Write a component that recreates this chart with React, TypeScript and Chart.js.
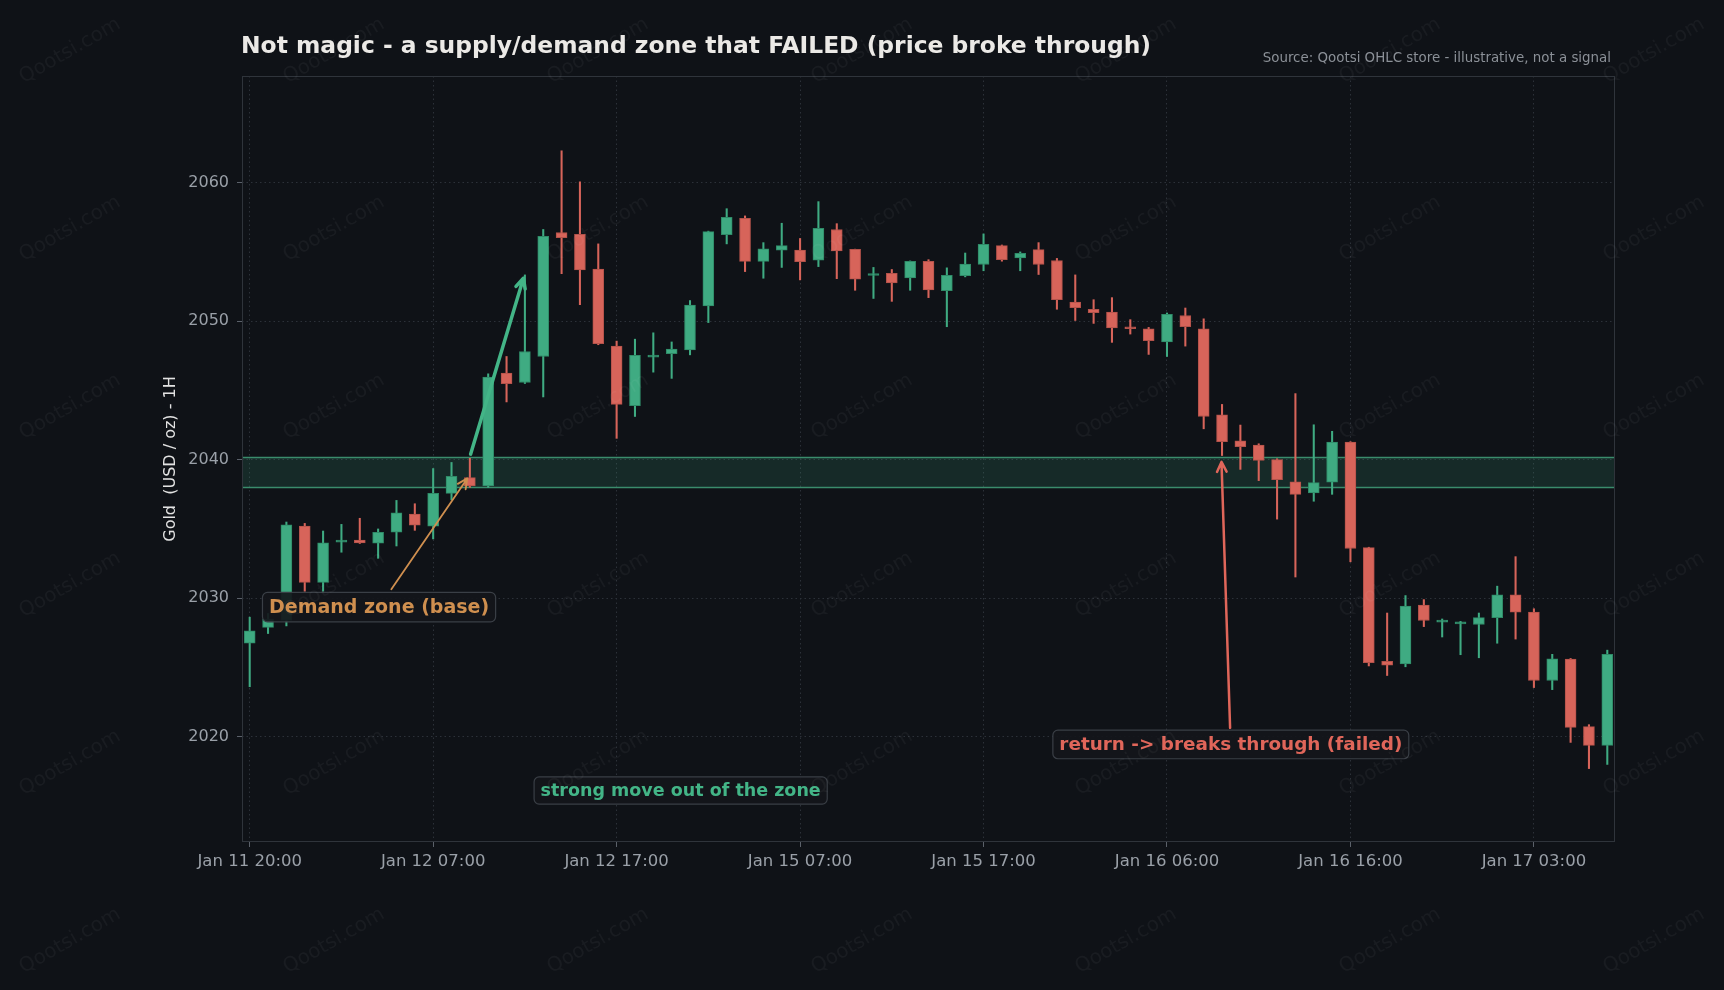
import React, { useEffect, useRef } from "react";
import { Chart, registerables } from "chart.js";
Chart.register(...registerables);

// ---- data (hourly OHLC, gold USD/oz) ----
const opens = [2026.75, 2027.9, 2028.4, 2035.2, 2031.14, 2034.05, 2034.2, 2033.98, 2034.76, 2036.07,
  2035.2, 2037.57, 2038.7, 2038.1, 2046.26, 2045.57, 2047.45, 2056.4, 2056.27, 2053.76,
  2048.2, 2043.9, 2047.4, 2047.66, 2047.93, 2051.1, 2056.24, 2057.43, 2054.32, 2055.13,
  2055.13, 2054.41, 2056.62, 2055.19, 2053.3, 2053.46, 2053.13, 2054.32, 2052.2, 2053.28,
  2054.09, 2055.46, 2054.56, 2055.16, 2054.38, 2051.37, 2050.86, 2050.65, 2049.6, 2049.45,
  2048.5, 2050.41, 2049.45, 2043.24, 2041.36, 2041.06, 2040.01, 2038.4, 2037.6, 2038.37,
  2041.27, 2033.65, 2025.45, 2025.26, 2029.5, 2028.27, 2028.15, 2028.1, 2028.6, 2030.25,
  2029.0, 2024.06, 2025.6, 2020.73, 2019.37];
const highs = [2028.63, 2028.9, 2035.5, 2035.4, 2034.85, 2035.33, 2035.77, 2035.0, 2037.06, 2036.82,
  2039.36, 2039.8, 2040.1, 2046.2, 2047.45, 2053.34, 2056.62, 2062.3, 2060.06, 2055.58,
  2048.56, 2048.7, 2049.16, 2048.5, 2051.49, 2056.5, 2058.12, 2057.6, 2055.67, 2057.07,
  2055.97, 2058.63, 2057.04, 2055.2, 2053.88, 2053.73, 2054.35, 2054.44, 2053.85, 2054.92,
  2056.3, 2055.5, 2055.0, 2055.67, 2054.53, 2053.34, 2051.55, 2051.7, 2050.11, 2049.55,
  2050.59, 2050.95, 2050.17, 2043.99, 2042.5, 2041.15, 2040.07, 2044.77, 2042.52, 2042.05,
  2041.3, 2033.68, 2028.93, 2030.19, 2029.9, 2028.5, 2028.33, 2028.93, 2030.87, 2033.0,
  2029.24, 2025.95, 2025.65, 2020.87, 2026.25];
const lows = [2023.61, 2027.45, 2028.0, 2030.5, 2030.5, 2033.32, 2033.95, 2032.88, 2033.77, 2034.9,
  2034.28, 2037.1, 2038.0, 2038.0, 2044.17, 2045.5, 2044.53, 2053.43, 2051.19, 2048.3,
  2041.54, 2043.12, 2046.32, 2045.87, 2047.57, 2049.9, 2055.58, 2053.58, 2053.1, 2053.88,
  2052.98, 2053.94, 2053.07, 2052.23, 2051.64, 2051.43, 2052.23, 2051.7, 2049.6, 2053.2,
  2053.64, 2054.33, 2053.64, 2053.37, 2050.86, 2050.05, 2049.84, 2048.47, 2049.07, 2047.6,
  2047.45, 2048.2, 2042.23, 2040.3, 2039.3, 2038.49, 2035.71, 2031.53, 2037.0, 2037.5,
  2032.63, 2025.11, 2024.42, 2025.05, 2027.95, 2027.2, 2025.92, 2025.7, 2026.75, 2027.05,
  2023.55, 2023.4, 2019.59, 2017.7, 2018.0];
const closes = [2027.65, 2028.5, 2035.3, 2031.14, 2034.0, 2034.12, 2034.0, 2034.76, 2036.16, 2035.27,
  2037.57, 2038.79, 2038.1, 2045.96, 2045.48, 2047.81, 2056.12, 2056.03, 2053.7, 2048.38,
  2043.99, 2047.54, 2047.45, 2047.99, 2051.16, 2056.47, 2057.49, 2054.32, 2055.22, 2055.46,
  2054.29, 2056.71, 2055.07, 2053.04, 2053.35, 2052.77, 2054.32, 2052.26, 2053.31, 2054.12,
  2055.55, 2054.44, 2054.9, 2054.09, 2051.55, 2050.98, 2050.62, 2049.51, 2049.45, 2048.59,
  2050.5, 2049.6, 2043.12, 2041.3, 2040.94, 2039.95, 2038.55, 2037.5, 2038.34, 2041.27,
  2033.59, 2025.35, 2025.17, 2029.44, 2028.39, 2028.33, 2028.2, 2028.6, 2030.25, 2028.99,
  2024.06, 2025.63, 2020.67, 2019.37, 2025.95];

const tickIndex = [0, 10, 20, 30, 40, 50, 60, 70];
const tickLabels = ["Jan 11 20:00", "Jan 12 07:00", "Jan 12 17:00", "Jan 15 07:00",
  "Jan 15 17:00", "Jan 16 06:00", "Jan 16 16:00", "Jan 17 03:00"];
const yTicks = [2020, 2030, 2040, 2050, 2060];

const zoneLow = 2038.0;
const zoneHigh = 2040.16;

const titleText = "Not magic - a supply/demand zone that FAILED (price broke through)";
const sourceText = "Source: Qootsi OHLC store - illustrative, not a signal";
const yTitle = "Gold  (USD / oz) - 1H";
const watermark = "Qootsi.com";

// ---- style ----
const BG = "#0f1217";
const UP = "#3fab82";
const UP_EDGE = "#2f8a67";
const DN = "#d7645a";
const DN_EDGE = "#b3524a";
const TAN = "#cf8f4f";
const GRID = "#2c3139";
const SPINE = "#2f343b";
const TICKTXT = "#9aa0a8";
const FONT = "'DejaVu Sans', sans-serif";

const notes = [
  { text: "Demand zone (base)", x: 7.05, y: 2029.36, color: TAN, size: 19 },
  { text: "strong move out of the zone", x: 23.49, y: 2016.12, color: "#43b587", size: 17.5 },
  { text: "return -> breaks through (failed)", x: 53.48, y: 2019.44, color: "#e0665a", size: 18.4 },
];
const arrows = [
  { x0: 7.72, y0: 2030.64, x1: 11.86, y1: 2038.65, color: TAN, width: 1.8 },
  { x0: 12.04, y0: 2040.4, x1: 14.92, y1: 2053.1, color: "#43b587", width: 3.5 },
  { x0: 53.44, y0: 2020.64, x1: 52.97, y1: 2039.84, color: "#e0665a", width: 2.5 },
];

export default function App() {
  const ref = useRef<HTMLCanvasElement>(null);
  useEffect(() => {
    document.body.style.margin = "0";
    document.body.style.background = BG;
    const canvas = ref.current!;
    const up = closes.map((c, i) => c >= opens[i]);
    const idx = closes.map((_, i) => i);

    const decor = {
      id: "decor",
      beforeDraw(chart: any) {
        const c = chart.ctx;
        c.save();
        c.fillStyle = BG;
        c.fillRect(0, 0, chart.width, chart.height);
        c.restore();
      },
      beforeDatasetsDraw(chart: any) {
        const c = chart.ctx;
        const a = chart.chartArea;
        const ys = chart.scales.y;
        const t = ys.getPixelForValue(zoneHigh);
        const b = ys.getPixelForValue(zoneLow);
        c.save();
        c.fillStyle = "rgba(60,170,128,0.16)";
        c.fillRect(a.left, t, a.right - a.left, b - t);
        c.strokeStyle = "#3a8c6c";
        c.lineWidth = 1.5;
        c.beginPath();
        c.moveTo(a.left, t); c.lineTo(a.right, t);
        c.moveTo(a.left, b); c.lineTo(a.right, b);
        c.stroke();
        c.restore();
      },
      afterDatasetsDraw(chart: any) {
        const c = chart.ctx;
        const xs = chart.scales.x, ys = chart.scales.y;
        c.save();
        for (const ar of arrows) {
          const px0 = xs.getPixelForValue(ar.x0), py0 = ys.getPixelForValue(ar.y0);
          const px1 = xs.getPixelForValue(ar.x1), py1 = ys.getPixelForValue(ar.y1);
          const ang = Math.atan2(py1 - py0, px1 - px0);
          const hl = 11, ha = 0.45;
          c.strokeStyle = ar.color;
          c.lineWidth = ar.width;
          c.lineCap = "round";
          c.lineJoin = "round";
          c.beginPath();
          c.moveTo(px0, py0); c.lineTo(px1, py1);
          c.moveTo(px1 - hl * Math.cos(ang - ha), py1 - hl * Math.sin(ang - ha));
          c.lineTo(px1, py1);
          c.lineTo(px1 - hl * Math.cos(ang + ha), py1 - hl * Math.sin(ang + ha));
          c.stroke();
        }
        c.textAlign = "center";
        c.textBaseline = "middle";
        for (const n of notes) {
          c.font = `bold ${n.size}px ${FONT}`;
          const px = xs.getPixelForValue(n.x), py = ys.getPixelForValue(n.y);
          const w = c.measureText(n.text).width + 13;
          const h = n.size * 1.55;
          c.beginPath();
          (c as any).roundRect(px - w / 2, py - h / 2, w, h, 5);
          c.fillStyle = "rgba(19,22,27,0.92)";
          c.fill();
          c.strokeStyle = "#3a3f46";
          c.lineWidth = 1.2;
          c.stroke();
          c.fillStyle = n.color;
          c.fillText(n.text, px, py + 1);
        }
        c.restore();
      },
      afterDraw(chart: any) {
        const c = chart.ctx;
        const a = chart.chartArea;
        c.save();
        c.strokeStyle = SPINE;
        c.lineWidth = 1;
        c.strokeRect(a.left + 0.5, a.top + 0.5, a.right - a.left - 1, a.bottom - a.top - 1);
        c.fillStyle = "#ebe9e6";
        c.font = `bold 23.4px ${FONT}`;
        c.textAlign = "left";
        c.textBaseline = "middle";
        c.fillText(titleText, a.left - 1, 47);
        c.fillStyle = "#8b9097";
        c.font = `13.4px ${FONT}`;
        c.textAlign = "right";
        c.textBaseline = "alphabetic";
        c.fillText(sourceText, a.right - 4, 62);
        c.save();
        c.translate(171, (a.top + a.bottom) / 2);
        c.rotate(-Math.PI / 2);
        c.fillStyle = "#e2e2e2";
        c.font = `16px ${FONT}`;
        c.textAlign = "center";
        c.textBaseline = "middle";
        c.fillText(yTitle, 0, 0);
        c.restore();
        c.fillStyle = "rgba(255,255,255,0.045)";
        c.font = `20px ${FONT}`;
        c.textAlign = "center";
        c.textBaseline = "middle";
        for (let col = 0; col < 7; col++) {
          for (let row = 0; row < 6; row++) {
            c.save();
            c.translate(70 + col * 264, 51 + row * 178);
            c.rotate(-0.52);
            c.fillText(watermark, 0, 0);
            c.restore();
          }
        }
        c.restore();
      },
    };

    const gridOpts = {
      color: GRID,
      offset: false,
      tickColor: "#5b616a",
      tickBorderDash: [],
      tickLength: 5,
      drawTicks: true,
      lineWidth: 1,
    };

    const chart = new Chart(canvas, {
      type: "bar",
      data: {
        datasets: [
          {
            data: idx.map((i) => ({ x: i, y: [lows[i], highs[i]] })) as any,
            backgroundColor: up.map((u) => (u ? UP : DN)),
            borderWidth: 0,
            barThickness: 1.4,
            grouped: false,
            order: 2,
          } as any,
          {
            data: idx.map((i) => ({ x: i, y: [Math.min(opens[i], closes[i]), Math.max(opens[i], closes[i])] })) as any,
            backgroundColor: up.map((u) => (u ? UP : DN)),
            borderColor: up.map((u) => (u ? UP_EDGE : DN_EDGE)),
            borderWidth: 1,
            borderSkipped: false,
            minBarLength: 2,
            barThickness: 11,
            grouped: false,
            order: 1,
          } as any,
        ],
      },
      options: {
        responsive: false,
        devicePixelRatio: 1,
        animation: false,
        events: [],
        layout: { padding: { left: 0, top: 76, right: 109, bottom: 88 } },
        plugins: { legend: { display: false }, title: { display: false }, tooltip: { enabled: false } },
        scales: {
          x: {
            type: "linear",
            offset: false,
            min: -0.42,
            max: 74.42,
            afterFit: (s: any) => { s.height = 60; },
            afterBuildTicks: (s: any) => { s.ticks = tickIndex.map((v) => ({ value: v })); },
            ticks: {
              autoSkip: false,
              maxRotation: 0,
              color: TICKTXT,
              font: { family: FONT, size: 16.5 },
              padding: 5,
              callback: (v: any) => tickLabels[tickIndex.indexOf(Number(v))] ?? "",
            },
            grid: gridOpts as any,
            border: { display: false, dash: [1.5, 3] } as any,
          },
          y: {
            type: "linear",
            min: 2012.4,
            max: 2067.7,
            afterFit: (s: any) => { s.width = 242; },
            afterBuildTicks: (s: any) => { s.ticks = yTicks.map((v) => ({ value: v })); },
            ticks: {
              color: TICKTXT,
              font: { family: FONT, size: 16 },
              padding: 8,
              callback: (v: any) => String(v),
            },
            grid: gridOpts as any,
            border: { display: false, dash: [1.5, 3] } as any,
          },
        },
      } as any,
      plugins: [decor],
    });
    return () => chart.destroy();
  }, []);
  return (
    <div style={{ width: 1724, height: 990 }}>
      <canvas ref={ref} width={1724} height={990} style={{ display: "block", width: 1724, height: 990 }} />
    </div>
  );
}
